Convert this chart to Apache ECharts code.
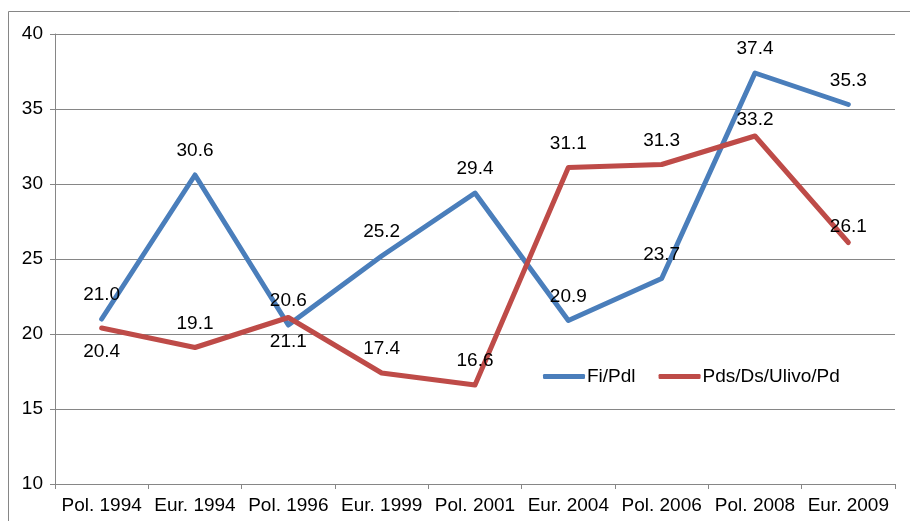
<!DOCTYPE html>
<html>
<head>
<meta charset="utf-8">
<title>Fi/Pdl - Pds/Ds/Ulivo/Pd</title>
<script src="https://cdn.jsdelivr.net/npm/echarts@6/dist/echarts.min.js"></script>
<style>
	html, body { margin: 0; padding: 0; background: #fff; }
	#main { width: 910px; height: 521px; }
</style>
</head>
<body>
<div id="main"></div>
<script>
	// dati
	var categories = ['Pol. 1994', 'Eur. 1994', 'Pol. 1996', 'Eur. 1999', 'Pol. 2001', 'Eur. 2004', 'Pol. 2006', 'Pol. 2008', 'Eur. 2009'];
	var fiPdl = [21.0, 30.6, 20.6, 25.2, 29.4, 20.9, 23.7, 37.4, 35.3];
	var pdsPd = [20.4, 19.1, 21.1, 17.4, 16.6, 31.1, 31.3, 33.2, 26.1];
	var seriesNames = ['Fi/Pdl', 'Pds/Ds/Ulivo/Pd'];
	var yTicks = [10, 15, 20, 25, 30, 35, 40];

	var colors = ['#4a7ebb', '#be4b48'];
	var font = '"Liberation Sans", Arial, sans-serif';

	// etichette rosse: sotto il punto / più vicine al punto (come nell'originale)
	var redBelow = [0, 2];
	var redClose = [7, 8];

	function toData(values, below, close) {
		return values.map(function (v, i) {
			var item = { value: v };
			if (below && below.indexOf(i) >= 0) {
				item.label = { position: 'bottom' };
			}
			if (close && close.indexOf(i) >= 0) {
				item.label = { distance: 6 };
			}
			return item;
		});
	}

	var myChart = echarts.init(document.getElementById('main'));
	var option = {
		animation: false,
		color: colors,
		textStyle: { fontFamily: font },
		graphic: [{
			type: 'rect',
			shape: { x: 8.5, y: 11.5, width: 920, height: 530 },
			style: { fill: 'none', stroke: '#868686', lineWidth: 1 },
			silent: true
		}],
		grid: {
			left: 55,
			right: 15,
			top: 34,
			bottom: 37
		},
		legend: {
			left: 543,
			top: 367,
			padding: 0,
			icon: 'roundRect',
			itemWidth: 42,
			itemHeight: 5,
			itemGap: 23,
			data: seriesNames,
			textStyle: { fontFamily: font, fontSize: 19, color: '#000', padding: [0, 0, 0, -3] }
		},
		xAxis: {
			type: 'category',
			data: categories,
			boundaryGap: true,
			axisLine: { lineStyle: { color: '#868686', width: 1 } },
			axisTick: { show: true, length: 5, lineStyle: { color: '#868686' } },
			axisLabel: { fontFamily: font, fontSize: 19, color: '#000', margin: 12, interval: 0 }
		},
		yAxis: {
			type: 'value',
			min: yTicks[0],
			max: yTicks[yTicks.length - 1],
			interval: 5,
			axisLine: { show: true, lineStyle: { color: '#868686', width: 1 } },
			axisTick: { show: true, length: 5, lineStyle: { color: '#868686' } },
			axisLabel: { fontFamily: font, fontSize: 19, color: '#000', margin: 12 },
			splitLine: { show: true, lineStyle: { color: '#868686', width: 1 } }
		},
		series: [{
			name: seriesNames[0],
			type: 'line',
			data: toData(fiPdl),
			symbol: 'circle',
			symbolSize: 1,
			z: 2,
			lineStyle: { width: 5, color: colors[0], cap: 'round', join: 'round' },
			itemStyle: { color: colors[0] },
			label: {
				show: true,
				position: 'top',
				distance: 14,
				fontFamily: font,
				fontSize: 19,
				color: '#000',
				formatter: function (p) { return p.value.toFixed(1); }
			}
		}, {
			name: seriesNames[1],
			type: 'line',
			data: toData(pdsPd, redBelow, redClose),
			symbol: 'circle',
			symbolSize: 1,
			z: 3,
			lineStyle: { width: 5, color: colors[1], cap: 'round', join: 'round' },
			itemStyle: { color: colors[1] },
			label: {
				show: true,
				position: 'top',
				distance: 14,
				fontFamily: font,
				fontSize: 19,
				color: '#000',
				formatter: function (p) { return p.value.toFixed(1); }
			}
		}]
	};
	myChart.setOption(option);
</script>
</body>
</html>
